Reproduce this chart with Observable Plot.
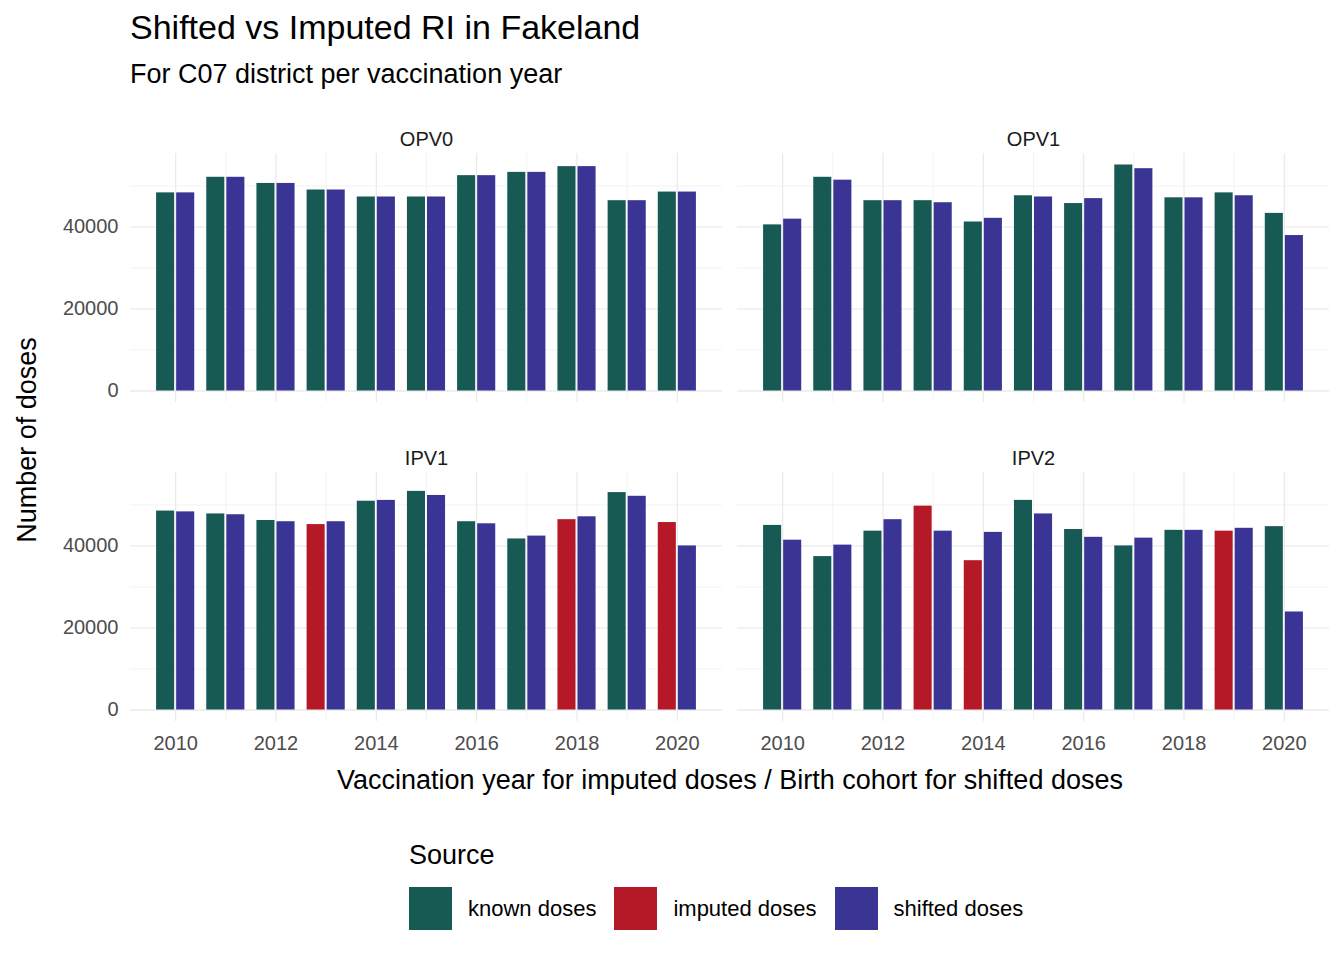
<!DOCTYPE html>
<html><head><meta charset="utf-8">
<script src="https://cdn.jsdelivr.net/npm/d3@7"></script>
<script src="https://cdn.jsdelivr.net/npm/@observablehq/plot@0.6"></script>
<style>
body{margin:0;background:#fff;font-family:"Liberation Sans",Arial,sans-serif;}
#wrap{position:relative;width:1344px;height:960px;}
.abs{position:absolute;white-space:nowrap;color:#000;}
</style></head><body>
<div id="wrap">
<div class="abs" style="left:130px;top:8px;font-size:34px;">Shifted vs Imputed RI in Fakeland</div>
<div class="abs" style="left:130px;top:59px;font-size:27px;">For C07 district per vaccination year</div>
<div id="chart" class="abs" style="left:0;top:105px;"></div>
<div class="abs" style="left:27px;top:440px;font-size:27px;transform:translate(-50%,-50%) rotate(-90deg);">Number of doses</div>
<div class="abs" style="left:730px;top:780px;font-size:27px;transform:translate(-50%,-50%);">Vaccination year for imputed doses / Birth cohort for shifted doses</div>
<div class="abs" style="left:409px;top:840px;font-size:27px;">Source</div>
<div id="legend" class="abs" style="left:409px;top:887px;display:flex;align-items:center;font-size:22px;"></div>
</div>
<script>
const years = [2010,2011,2012,2013,2014,2015,2016,2017,2018,2019,2020];
const antigens = ["OPV0","OPV1","IPV1","IPV2"];
const opv0First   = [48300,52100,50600,49000,47300,47300,52500,53300,54700,46400,48500];
const opv0Shifted = [48300,52100,50600,49000,47300,47300,52500,53300,54700,46400,48500];
const opv1First   = [40500,52100,46400,46400,41200,47600,45700,55100,47100,48300,43300];
const opv1Shifted = [41900,51400,46400,45900,42100,47300,46900,54200,47100,47600,37900];
const ipv1First   = [48500,47800,46200,45200,50900,53300,45900,41700,46400,53000,45700];
const ipv1Shifted = [48300,47600,45900,45900,51100,52300,45400,42400,47100,52100,40000];
const ipv2First   = [45000,37400,43600,49700,36400,51100,44000,40000,43800,43600,44700];
const ipv2Shifted = [41400,40200,46400,43600,43300,47800,42100,41900,43800,44300,23900];
const ipv1Imputed = [2013,2018,2020];
const ipv2Imputed = [2013,2014,2019];
const sources = ["known doses","imputed doses","shifted doses"];
const colors = ["#175A54","#B51827","#3A3495"];

const firsts = {OPV0:opv0First,OPV1:opv1First,IPV1:ipv1First,IPV2:ipv2First};
const shifts = {OPV0:opv0Shifted,OPV1:opv1Shifted,IPV1:ipv1Shifted,IPV2:ipv2Shifted};
const imputed = {OPV0:[],OPV1:[],IPV1:ipv1Imputed,IPV2:ipv2Imputed};
const rows = [];
antigens.forEach((a,i)=>{
  years.forEach((y,j)=>{
    const base = {antigen:a, col:i%2, row:Math.floor(i/2), year:y};
    rows.push({...base, pos:0, source: imputed[a].includes(y)?"imputed doses":"known doses", value:firsts[a][j]});
    rows.push({...base, pos:1, source:"shifted doses", value:shifts[a][j]});
  });
});
const facets = antigens.map((a,i)=>({antigen:a,col:i%2,row:Math.floor(i/2)}));
const grid = "#EBEBEB";
const plot = Plot.plot({
  width:1344, height:700,
  marginLeft:130, marginRight:14, marginTop:47, marginBottom:83,
  style:{fontFamily:"Liberation Sans, Arial, sans-serif", fontSize:"20px", color:"#4D4D4D", background:"#fff"},
  fx:{domain:[0,1], padding:0.0247, axis:null},
  fy:{domain:[0,1], padding:0.218, axis:null},
  x:{domain:[2009.1,2020.9], ticks:[2010,2012,2014,2016,2018,2020], tickFormat:d=>String(d), tickSize:0, tickPadding:14, label:null},
  y:{domain:[-2800,57900], ticks:[0,20000,40000], tickFormat:d=>String(d), tickSize:0, tickPadding:12, label:null},
  color:{domain:sources, range:colors},
  marks:[
    Plot.ruleY([10000,30000,50000],{stroke:grid, strokeWidth:0.6}),
    Plot.ruleY([0,20000,40000],{stroke:grid, strokeWidth:1.3}),
    Plot.ruleX(years.filter(y=>y%2===1),{stroke:grid, strokeWidth:0.6}),
    Plot.ruleX(years.filter(y=>y%2===0),{stroke:grid, strokeWidth:1.3}),
    Plot.rectY(rows,{fx:"col", fy:"row",
      x1:d=>d.pos===0 ? d.year-0.38 : d.year+0.02,
      x2:d=>d.pos===0 ? d.year-0.02 : d.year+0.38,
      y1:0, y2:"value", fill:"source"}),
    Plot.text(facets,{fx:"col", fy:"row", text:"antigen", frameAnchor:"top", dy:-22, fill:"#1A1A1A", fontSize:20})
  ]
});
document.getElementById("chart").appendChild(plot);
const lg = document.getElementById("legend");
sources.forEach((s,i)=>{
  const sw = document.createElement("span");
  sw.style.cssText = `display:inline-block;width:43px;height:43px;background:${colors[i]};margin-right:16px;`;
  const t = document.createElement("span");
  t.textContent = s; t.style.marginRight = "18px";
  lg.appendChild(sw); lg.appendChild(t);
});
</script>
</body></html>
